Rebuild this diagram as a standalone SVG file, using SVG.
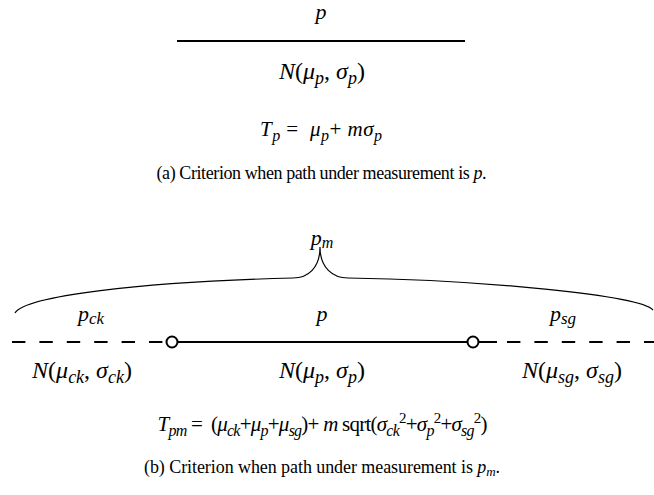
<svg xmlns="http://www.w3.org/2000/svg" width="654" height="495" viewBox="0 0 654 495">
<style>
text{font-family:'Liberation Serif','Times New Roman',serif;font-size:22px;fill:#000}
.cap{font-size:18px}
.f{font-size:21px}
.n{font-size:24px}
.c{text-anchor:middle}
.i{font-style:italic}
.s{font-size:16px;font-style:italic}
.sl{font-size:17px;font-style:italic}
.sn{font-size:18px;font-style:italic}
.u{font-size:15px}
.solid{stroke:#000;stroke-width:2;fill:none}
.dash{stroke:#000;stroke-width:2;fill:none;stroke-dasharray:13.4 14}
.brace{stroke:#000;stroke-width:1.2;fill:none}
.node{fill:#fff;stroke:#000;stroke-width:2}
</style>
<rect width="654" height="495" fill="#fff"/>
<g id="part-a">
  <text class="c i" x="321" y="19">p</text>
  <line class="solid" x1="177" y1="41" x2="465" y2="41"/>
  <text class="c n" x="322" y="79"><tspan class="i">N</tspan>(<tspan class="i">μ</tspan><tspan class="sn" dy="5">p</tspan><tspan dy="-5">, </tspan><tspan class="i">σ</tspan><tspan class="sn" dy="5">p</tspan><tspan dy="-5">)</tspan></text>
  <text class="c f" x="321" y="136" textLength="122" lengthAdjust="spacing"><tspan class="i">T</tspan><tspan class="s" dy="5">p</tspan><tspan dy="-5"> =&#160; </tspan><tspan class="i">μ</tspan><tspan class="s" dy="5">p</tspan><tspan dy="-5">+ </tspan><tspan class="i">mσ</tspan><tspan class="s" dy="5">p</tspan></text>
  <text class="c cap" x="321.5" y="179" textLength="330" lengthAdjust="spacing">(a) Criterion when path under measurement is <tspan class="i">p</tspan>.</text>
</g>
<g id="connectors">
  <path class="brace" d="M15,313 C25,296 140,282 293,278 C308,278 320,268 320,247 C320,268 333,278 348,278 C480,280 640,295 653,310"/>
  <line class="dash" x1="12" y1="342" x2="167" y2="342"/>
  <line class="solid" x1="172" y1="342" x2="473" y2="342"/>
  <line class="dash" x1="507" y1="342" x2="654" y2="342"/>
  <line class="solid" x1="473" y1="342" x2="497" y2="342"/>
</g>
<g id="node-left"><circle class="node" cx="172" cy="342" r="5.5"/></g>
<g id="node-right"><circle class="node" cx="473" cy="342" r="5.5"/></g>
<g id="part-b">
  <text class="c" x="322" y="245"><tspan class="i">p</tspan><tspan class="s" dy="3">m</tspan></text>
  <text x="78" y="321"><tspan class="i">p</tspan><tspan class="sl" dy="3">ck</tspan></text>
  <text class="c i" x="322" y="321">p</text>
  <text x="550" y="321"><tspan class="i">p</tspan><tspan class="sl" dy="3">sg</tspan></text>
  <text class="c n" x="82" y="378"><tspan class="i">N</tspan>(<tspan class="i">μ</tspan><tspan class="sn" dy="5">ck</tspan><tspan dy="-5">, </tspan><tspan class="i">σ</tspan><tspan class="sn" dy="5">ck</tspan><tspan dy="-5">)</tspan></text>
  <text class="c n" x="322" y="378"><tspan class="i">N</tspan>(<tspan class="i">μ</tspan><tspan class="sn" dy="5">p</tspan><tspan dy="-5">, </tspan><tspan class="i">σ</tspan><tspan class="sn" dy="5">p</tspan><tspan dy="-5">)</tspan></text>
  <text class="c n" x="572" y="378"><tspan class="i">N</tspan>(<tspan class="i">μ</tspan><tspan class="sn" dy="5">sg</tspan><tspan dy="-5">, </tspan><tspan class="i">σ</tspan><tspan class="sn" dy="5">sg</tspan><tspan dy="-5">)</tspan></text>
  <text class="c f" x="322.5" y="431" textLength="330" lengthAdjust="spacing"><tspan class="i">T</tspan><tspan class="s" dy="5">pm</tspan><tspan dy="-5"> =&#160; (</tspan><tspan class="i">μ</tspan><tspan class="s" dy="5">ck</tspan><tspan dy="-5">+</tspan><tspan class="i">μ</tspan><tspan class="s" dy="5">p</tspan><tspan dy="-5">+</tspan><tspan class="i">μ</tspan><tspan class="s" dy="5">sg</tspan><tspan dy="-5">)+ </tspan><tspan class="i">m</tspan> sqrt(<tspan class="i">σ</tspan><tspan class="s" dy="5">ck</tspan><tspan class="u" dy="-13">2</tspan><tspan dy="8">+</tspan><tspan class="i">σ</tspan><tspan class="s" dy="5">p</tspan><tspan class="u" dy="-13">2</tspan><tspan dy="8">+</tspan><tspan class="i">σ</tspan><tspan class="s" dy="5">sg</tspan><tspan class="u" dy="-13">2</tspan><tspan dy="8">)</tspan></text>
  <text class="c cap" x="322" y="473" textLength="356" lengthAdjust="spacing">(b) Criterion when path under measurement is <tspan class="i">p</tspan><tspan class="s" dy="3" style="font-size:13px">m</tspan><tspan dy="-3">.</tspan></text>
</g>
</svg>
